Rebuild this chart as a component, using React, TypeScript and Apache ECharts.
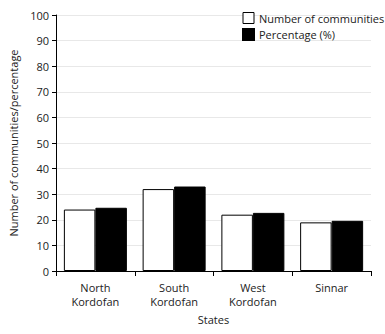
import React, { useEffect, useRef } from "react";
import * as echarts from "echarts";

const categories = ["North\nKordofan", "South\nKordofan", "West\nKordofan", "Sinnar"];
const communities = [24, 32, 22, 19];
const percentage = [24.7, 33.0, 22.7, 19.6];
const yTicks = { min: 0, max: 100, interval: 10 };

const FONT = "'Open Sans', 'Noto Sans', sans-serif";

export default function App() {
  const ref = useRef<HTMLDivElement>(null);
  useEffect(() => {
    if (!ref.current) return;
    const chart = echarts.init(ref.current, null, { renderer: "svg" });
    chart.setOption({
      animation: false,
      backgroundColor: "#ffffff",
      textStyle: { fontFamily: FONT },
      legend: {
        orient: "vertical",
        left: 242,
        top: 12,
        padding: 0,
        itemWidth: 11,
        itemHeight: 11,
        itemGap: 4,
        textStyle: { fontFamily: FONT, fontSize: 11, color: "#222" },
        data: [
          { name: "Number of communities", icon: "rect", itemStyle: { color: "#fff", borderColor: "#000", borderWidth: 1 } },
          { name: "Percentage (%)", icon: "rect", itemStyle: { color: "#000" } },
        ],
      },
      grid: { left: 52, right: 14, top: 15, bottom: 63 },
      xAxis: {
        type: "category",
        data: categories,
        name: "States",
        nameLocation: "middle",
        nameGap: 43,
        nameTextStyle: { fontFamily: FONT, fontSize: 11, color: "#222" },
        axisLine: { lineStyle: { color: "#000", width: 1 } },
        axisTick: { show: true, length: 5, lineStyle: { color: "#000" } },
        axisLabel: { fontFamily: FONT, fontSize: 11, color: "#222", lineHeight: 14, margin: 9 },
      },
      yAxis: {
        type: "value",
        min: yTicks.min,
        max: yTicks.max,
        interval: yTicks.interval,
        name: "Number of communities/percentage",
        nameLocation: "middle",
        nameGap: 37,
        nameTextStyle: { fontFamily: FONT, fontSize: 11, color: "#222" },
        axisLine: { show: true, lineStyle: { color: "#000", width: 1 } },
        axisTick: { show: true, length: 4, lineStyle: { color: "#000" } },
        axisLabel: { fontFamily: FONT, fontSize: 11, color: "#222", margin: 7 },
        splitLine: { show: true, lineStyle: { color: "#e8e8e8", width: 1 } },
      },
      series: [
        {
          name: "Number of communities",
          type: "bar",
          data: communities,
          barGap: "0%",
          barCategoryGap: "20%",
          itemStyle: { color: "#fff", borderColor: "#000", borderWidth: 1 },
        },
        {
          name: "Percentage (%)",
          type: "bar",
          data: percentage,
          barGap: "0%",
          barCategoryGap: "20%",
          itemStyle: { color: "#000", borderColor: "#000", borderWidth: 1 },
        },
      ],
    });
    return () => chart.dispose();
  }, []);
  return <div ref={ref} style={{ width: 385, height: 334, position: "absolute", left: 0, top: 0 }} />;
}
